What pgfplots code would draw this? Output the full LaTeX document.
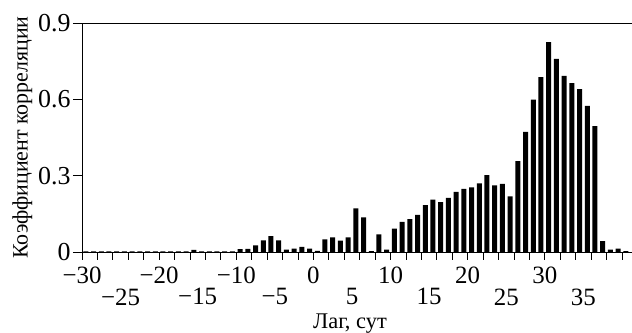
\documentclass[border=0pt]{standalone}
\usepackage{pgfplots}
\pgfplotsset{compat=1.18}
\usepackage{fontspec}
\setmainfont{Liberation Serif}
\begin{document}
\begin{tikzpicture}
\begin{axis}[
  name=ax,
  scale only axis,
  width=550bp, height=229bp,
  xmin=-30, xmax=41.3,
  ymin=0, ymax=0.9,
  axis x line=box,
  axis y line*=left,
  axis line style={line width=0.9bp},
  xtick pos=bottom, ytick pos=left,
  tick align=outside,
  major tick length=9bp,
  minor tick length=8bp,
  tick style={line width=0.9bp, black},
  xtick={-30,-20,...,30},
  xticklabels={−30,−20,−10,0,10,20,30},
  xticklabel style={font=\fontsize{25}{25}\selectfont, yshift=-2bp},
  every major x tick/.append style={draw=none},
  minor xtick={-30,-28,...,40},
  extra x ticks={-25,-15,...,35},
  extra x tick labels={−25,−15,−5,5,15,25,35},
  extra x tick style={tick style={draw=none}, xticklabel style={yshift=-22bp}},
  ytick={0,0.3,0.6,0.9},
  yticklabels={0,0.3,0.6,0.9},
  yticklabel style={font=\fontsize{26}{26}\selectfont, xshift=1bp},
  xlabel={Лаг, сут},
  ylabel={Коэффициент корреляции},
  xlabel style={font=\fontsize{22.5}{22.5}\selectfont, yshift=7bp, xshift=-7bp},
  ylabel style={font=\fontsize{22}{22}\selectfont, yshift=-1bp},
]
\addplot[ybar, bar width=5bp, bar shift=0pt, fill=black, draw=none] coordinates {
(-29.5,0.002) (-28.5,0.002) (-27.5,0.002) (-26.5,0.002) (-25.5,0.002)
(-24.5,0.002) (-23.5,0.002) (-22.5,0.002) (-21.5,0.002) (-20.5,0.002)
(-19.5,0.002) (-18.5,0.002) (-17.5,0.002) (-16.5,0.002) (-15.5,0.008)
(-14.5,0.002) (-13.5,0.002) (-12.5,0.002) (-11.5,0.002) (-10.5,0.002)
(-9.5,0.011) (-8.5,0.012) (-7.5,0.026) (-6.5,0.046) (-5.5,0.062)
(-4.5,0.046) (-3.5,0.009) (-2.5,0.013) (-1.5,0.020) (-0.5,0.013)
(0.5,0.004) (1.5,0.050) (2.5,0.057) (3.5,0.045) (4.5,0.057)
(5.5,0.171) (6.5,0.136) (7.5,0.003) (8.5,0.069) (9.5,0.009)
(10.5,0.092) (11.5,0.118) (12.5,0.129) (13.5,0.146) (14.5,0.184)
(15.5,0.206) (16.5,0.196) (17.5,0.213) (18.5,0.236) (19.5,0.248)
(20.5,0.254) (21.5,0.270) (22.5,0.302) (23.5,0.262) (24.5,0.268)
(25.5,0.219) (26.5,0.357) (27.5,0.472) (28.5,0.599) (29.5,0.687)
(30.5,0.825) (31.5,0.759) (32.5,0.692) (33.5,0.664) (34.5,0.640)
(35.5,0.574) (36.5,0.495) (37.5,0.043) (38.5,0.009) (39.5,0.013)
(40.5,0.003)
};
\end{axis}
\pgfresetboundingbox
\path[use as bounding box] ([xshift=-82bp,yshift=-81bp]ax.south west) rectangle ([yshift=23bp]ax.north east);
\end{tikzpicture}
\end{document}
